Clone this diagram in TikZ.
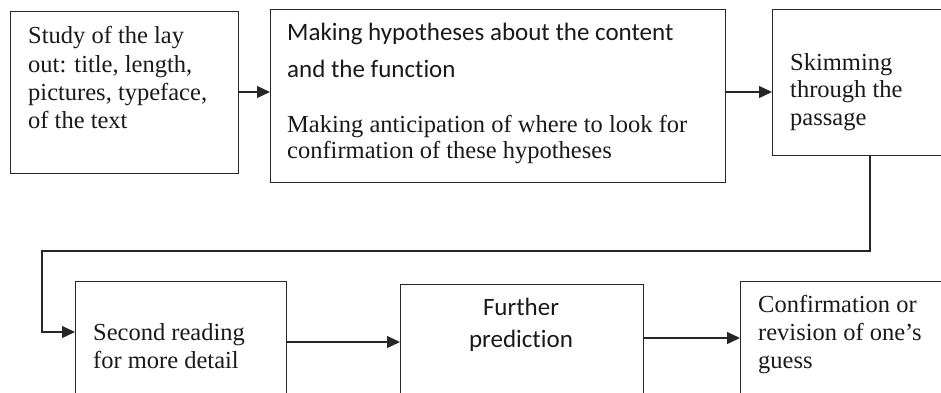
\documentclass[tikz,border=0pt]{standalone}
\usepackage{fontspec}
\setmainfont{Liberation Serif}
\newfontfamily\calib[Ligatures=NoCommon]{Carlito}
\usetikzlibrary{arrows.meta}
\begin{document}
\begin{tikzpicture}[x=1pt,y=-1pt,
  box/.style={draw=black!85, line width=1.2pt, rectangle, inner sep=0pt, anchor=north west},
  tt/.style={anchor=base west, inner sep=0pt, font=\fontsize{24.5}{28}\selectfont, text=black!90},
  cc/.style={anchor=base west, inner sep=0pt, font=\calib\fontsize{25}{28}\selectfont, text=black!90},
  arr/.style={draw=black!85, line width=1.2pt, -{Triangle[length=13pt,width=12pt]}}]
\useasboundingbox (0,0) rectangle (941,392);
\clip (0,0) rectangle (941,392);
% boxes
\node[box, minimum width=228pt, minimum height=162pt] (b1) at (10,11) {};
\node[box, minimum width=455pt, minimum height=173pt] (b2) at (270,9) {};
\node[box, minimum width=200pt, minimum height=146pt] (b3) at (772,9) {};
\node[box, minimum width=211pt, minimum height=140pt] (b4) at (75,281) {};
\node[box, minimum width=243pt, minimum height=140pt] (b5) at (400,284) {};
\node[box, minimum width=220pt, minimum height=140pt] (b6) at (740,281) {};
% texts
\node[tt] (t1a) at (28,43) {Study of the lay};
\node[tt] (t1b) at (28,72) {out: title, length,};
\node[tt] (t1c) at (28,100) {pictures, typeface,};
\node[tt] (t1d) at (28,128) {of the text};
\node[cc] (t2a) at (287,40) {Making hypotheses about the content};
\node[cc] (t2b) at (287,77) {and the function};
\node[tt] (t2c) at (287,132) {Making anticipation of where to look for};
\node[tt] (t2d) at (287,158) {confirmation of these hypotheses};
\node[tt] (t3a) at (790,70) {Skimming};
\node[tt] (t3b) at (790,97) {through the};
\node[tt] (t3c) at (790,125) {passage};
\node[tt] (t4a) at (93,340) {Second reading};
\node[tt] (t4b) at (93,368) {for more detail};
\node[cc, anchor=base] (t5a) at (521,315) {Further};
\node[cc, anchor=base] (t5b) at (521,347) {prediction};
\node[tt] (t6a) at (758,312) {Confirmation or};
\node[tt] (t6b) at (758,340) {revision of one’s};
\node[tt] (t6c) at (758,368) {guess};
% connectors
\coordinate (r1) at (0,92);
\coordinate (r2) at (0,342);
\coordinate (r3) at (0,338);
\coordinate (d1) at (870,251);
\coordinate (d2) at (42,251);
\coordinate (d3) at (42,332);
\draw[arr] (b1.east |- r1) -- (b2.west |- r1);
\draw[arr] (b2.east |- r1) -- (b3.west |- r1);
\draw[arr] (b3.south -| d1) -- (d1) -- (d2) -- (d3) -- (b4.west |- d3);
\draw[arr] (b4.east |- r2) -- (b5.west |- r2);
\draw[arr] (b5.east |- r3) -- (b6.west |- r3);
\end{tikzpicture}
\end{document}
